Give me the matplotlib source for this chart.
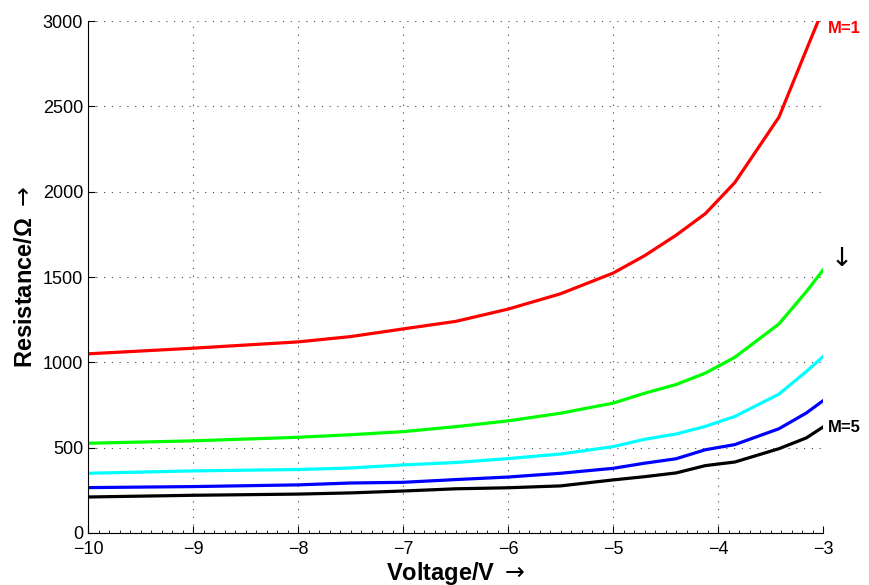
import matplotlib
matplotlib.use('Agg')
import matplotlib.pyplot as plt
from matplotlib.ticker import MultipleLocator

plt.rcParams['font.family'] = ['Liberation Sans', 'DejaVu Sans']

# voltage points (V)
voltage = [-10, -9, -8, -7.5, -7, -6.5, -6, -5.5, -5, -4.7, -4.4, -4.12, -3.84, -3.42, -3.16, -3.0]

# resistance (Ohm) for M = 1 .. 5
r_m1 = [1050, 1083, 1120, 1151, 1196, 1240, 1312, 1402, 1523, 1625, 1745, 1872, 2054, 2437, 2830, 3070]
r_m2 = [526, 540, 561, 576, 594, 623, 657, 702, 761, 819, 870, 937, 1030, 1225, 1414, 1541]
r_m3 = [350, 364, 372, 381, 399, 413, 436, 463, 506, 549, 580, 625, 683, 814, 946, 1034]
r_m4 = [266, 272, 282, 293, 297, 313, 328, 350, 379, 409, 435, 488, 518, 611, 703, 775]
r_m5 = [211, 221, 228, 235, 246, 259, 265, 276, 311, 330, 352, 395, 416, 494, 557, 621]

series = [r_m1, r_m2, r_m3, r_m4, r_m5]
colors = ['#ff0000', '#00ff00', '#00ffff', '#0000ff', '#000000']
xticks = list(range(-10, -2))

fig = plt.figure(figsize=(8.69, 5.85), dpi=100)
ax = fig.add_axes([0.1013, 0.0889, 0.8458, 0.875])

for r, c in zip(series, colors):
    ax.plot(voltage, r, color=c, linewidth=2.3)

ax.set_xlim(-10, -3)
ax.set_ylim(0, 3000)
ax.set_xticks(xticks)
ax.set_xticklabels(['\u2212%d' % abs(v) for v in xticks])
ax.xaxis.set_minor_locator(MultipleLocator(0.1))
ax.yaxis.set_major_locator(MultipleLocator(500))

ax.grid(True, which='major', linestyle=(0, (1, 6)), color='#444444', linewidth=0.8)
ax.spines['top'].set_visible(False)
ax.spines['right'].set_visible(False)
ax.tick_params(which='major', direction='in', length=5, width=0.8, labelsize=13)
ax.tick_params(which='minor', direction='in', length=2, width=0.6)
ax.tick_params(axis='x', pad=6)

ax.set_xlabel('Voltage/V $\\rightarrow$', fontsize=17, fontweight='bold', labelpad=1)
ax.set_ylabel('Resistance/\u03a9 $\\rightarrow$', fontsize=17, fontweight='bold', labelpad=4)

ax.text(1.006, 0.985, 'M=1', transform=ax.transAxes, color='#ff0000',
        fontsize=12, fontweight='bold', va='center', ha='left')
ax.text(1.006, 0.207, 'M=5', transform=ax.transAxes, color='black',
        fontsize=12, fontweight='bold', va='center', ha='left')
ax.text(1.026, 0.535, '\u2193', transform=ax.transAxes, color='black',
        fontsize=19, va='center', ha='center', family=['DejaVu Sans'])

fig.savefig('out.png', dpi=100)
